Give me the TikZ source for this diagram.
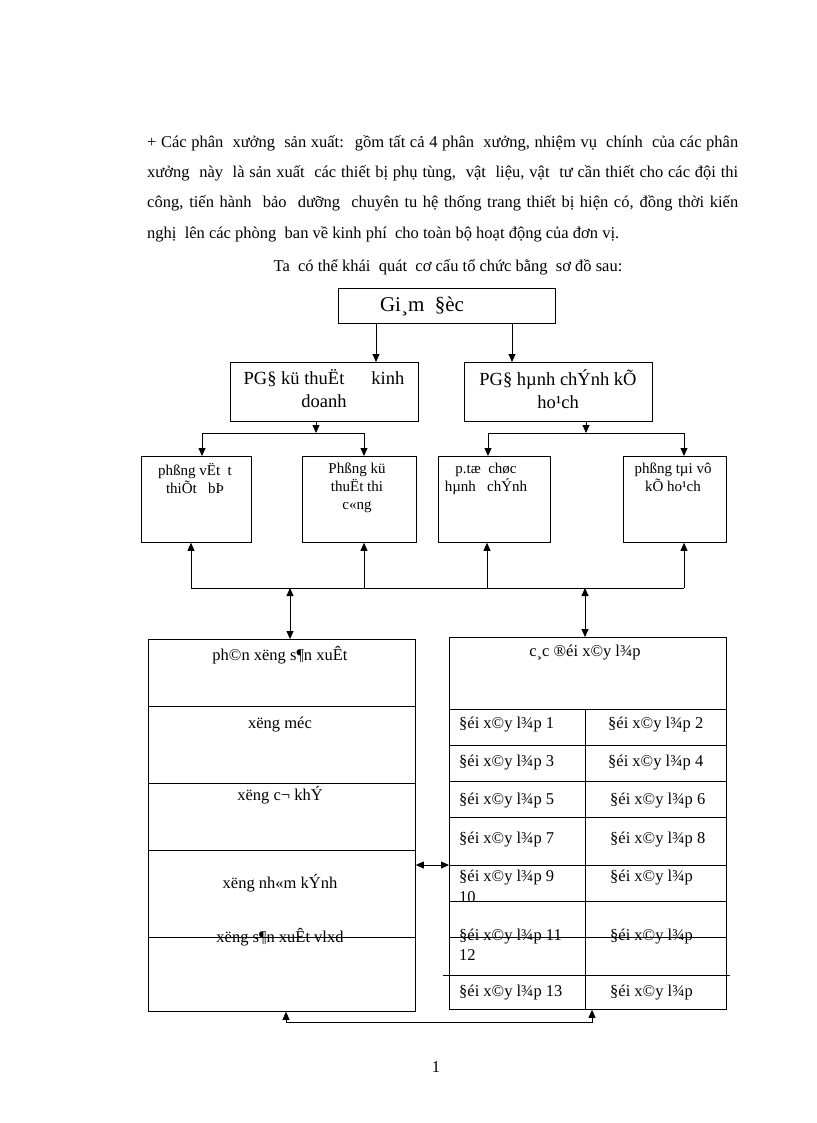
\documentclass[tikz,border=0pt]{standalone}
\usepackage{fontspec}
\setmainfont{Liberation Serif}
\usetikzlibrary{arrows.meta}
\tikzset{
  box/.style={draw, line width=0.8pt, inner sep=0pt, anchor=north west},
  ln/.style={line width=0.8pt},
  arr/.style={line width=0.8pt, -{Triangle[length=8pt,width=7pt]}},
  dbl/.style={line width=0.8pt, {Triangle[length=8pt,width=7pt]}-{Triangle[length=8pt,width=7pt]}},
  para/.style={inner sep=0pt, font=\fontsize{16.5}{20}\selectfont},
  gdtext/.style={inner sep=0pt, font=\fontsize{21}{25}\selectfont},
  pgtext/.style={inner sep=0pt, align=center, font=\fontsize{18.5}{23}\selectfont},
  smtext/.style={inner sep=0pt, align=center, anchor=north, font=\fontsize{15}{18}\selectfont},
  tbtext/.style={inner sep=0pt, font=\fontsize{16.5}{19}\selectfont},
}
\begin{document}
\begin{tikzpicture}[x=1pt,y=-1pt]
\useasboundingbox (0,0) rectangle (816,1123);
% paragraph
\node[para, anchor=base west] (p1) at (147,148) {\makebox[591pt][s]{+ Các phân \ xưởng \ sản xuất: \ gồm tất cả 4 phân \ xưởng, nhiệm vụ \ chính \ của các phân}};
\node[para, anchor=base west] (p2) at (147,178) {\makebox[591pt][s]{xưởng \ này \ là sản xuất \ các thiết bị phụ tùng, \ vật \ liệu, vật \ tư cần thiết cho các đội thi}};
\node[para, anchor=base west] (p3) at (147,208) {\makebox[591pt][s]{công, tiến hành \ bảo \ dưỡng \ chuyên tu hệ thống trang thiết bị hiện có, đồng thời kiến}};
\node[para, anchor=base west] (p4) at (147,238) {nghị \ lên các phòng \ ban về kinh phí \ cho toàn bộ hoạt động của đơn vị.};
\node[para, anchor=base] (p5) at (448,271) {Ta \ có thể khái \ quát \ cơ cấu tổ chức bằng \ sơ đồ sau:};
% boxes
\node[box, minimum width=217pt, minimum height=35pt] (gd) at (338,288) {};
\node[box, minimum width=188pt, minimum height=59pt] (pg1) at (230,362) {};
\node[box, minimum width=188pt, minimum height=59pt] (pg2) at (464,362) {};
\node[box, minimum width=110pt, minimum height=86pt] (b1) at (141,456) {};
\node[box, minimum width=114pt, minimum height=86pt] (b2) at (302,456) {};
\node[box, minimum width=112pt, minimum height=86pt] (b3) at (438,456) {};
\node[box, minimum width=103pt, minimum height=86pt] (b4) at (623,456) {};
\node[box, minimum width=267pt, minimum height=372pt] (lbox) at (148,639) {};
\node[box, minimum width=277pt, minimum height=372pt] (rt) at (449,637) {};
% texts
\node[gdtext] (tgd) at (422,306) {Gi¸m \ §èc};
\node[pgtext] (tpg1) at (324,389) {PG§ kü thuËt\hspace{27pt}kinh\\doanh};
\node[pgtext] (tpg2) at (558,389) {PG§ hµnh chÝnh kÕ\\ho¹ch};
\node[smtext] (tb1) at (195,463) {phßng vËt \ t\\thiÕt \ \ bÞ};
\node[smtext] (tb2) at (357,463) {Phßng kü\\thuËt thi\\c«ng};
\node[smtext] (tb3) at (486,463) {p.tæ \ chøc\\hµnh \ \ chÝnh};
\node[smtext] (tb4) at (673,463) {phßng tµi vô\\kÕ ho¹ch};
% left big box
\draw[ln] (148,706) -- (415,706);
\draw[ln] (148,783) -- (415,783);
\draw[ln] (148,850) -- (415,850);
\draw[ln] (148,937) -- (415,937);
\node[tbtext] (l1) at (280,655) {ph©n xëng s¶n xuÊt};
\node[tbtext] (l2) at (280,725) {xëng méc};
\node[tbtext] (l3) at (280,795) {xëng c¬ khÝ};
\node[tbtext] (l4) at (280,883) {xëng nh«m kÝnh};
\node[tbtext] (l5) at (280,937) {xëng s¶n xuÊt vlxd};
% right table
\draw[ln] (449,709) -- (726,709);
\draw[ln] (449,745) -- (726,745);
\draw[ln] (449,781) -- (726,781);
\draw[ln] (449,817) -- (726,817);
\draw[ln] (449,865) -- (726,865);
\draw[ln] (449,901) -- (726,901);
\draw[ln] (449,937) -- (726,937);
\draw[ln] (443,975) -- (730,975);
\draw[ln] (585,709) -- (585,1009);
\node[tbtext] (hd) at (585,653) {c¸c ®éi x©y l¾p};
\node[tbtext, anchor=west] (r1) at (459,725) {§éi x©y l¾p 1};
\node[tbtext, anchor=west] (r2) at (608,725) {§éi x©y l¾p 2};
\node[tbtext, anchor=west] (r3) at (459,763) {§éi x©y l¾p 3};
\node[tbtext, anchor=west] (r4) at (608,763) {§éi x©y l¾p 4};
\node[tbtext, anchor=west] (r5) at (459,801) {§éi x©y l¾p 5};
\node[tbtext, anchor=west] (r6) at (610,801) {§éi x©y l¾p 6};
\node[tbtext, anchor=west] (r7) at (459,840) {§éi x©y l¾p 7};
\node[tbtext, anchor=west] (r8) at (610,840) {§éi x©y l¾p 8};
\node[tbtext, anchor=west] (r9) at (459,878) {§éi x©y l¾p 9};
\node[tbtext, anchor=west] (r9b) at (459,897) {10};
\node[tbtext, anchor=west] (r10) at (610,878) {§éi x©y l¾p};
\node[tbtext, anchor=west] (r11) at (459,937) {§éi x©y l¾p 11};
\node[tbtext, anchor=west] (r11b) at (459,955) {12};
\node[tbtext, anchor=west] (r12) at (610,937) {§éi x©y l¾p};
\node[tbtext, anchor=west] (r13) at (459,993) {§éi x©y l¾p 13};
\node[tbtext, anchor=west] (r14) at (610,993) {§éi x©y l¾p};
% page number
\node[tbtext] (pn) at (436,1067) {1};
% connectors
\coordinate (g1) at (376,0);
\coordinate (g2) at (512,0);
\draw[arr] (gd.south -| g1) -- (pg1.north -| g1);
\draw[arr] (gd.south -| g2) -- (pg2.north -| g2);
\coordinate (u0) at (316,433);
\coordinate (u1) at (202,433);
\coordinate (u2) at (364,433);
\draw[arr] (pg1.south -| u0) -- (u0);
\draw[ln] (u1) -- (u2);
\draw[arr] (u1) -- (b1.north -| u1);
\draw[arr] (u2) -- (b2.north -| u2);
\coordinate (v0) at (586,433);
\coordinate (v1) at (488,433);
\coordinate (v2) at (684,433);
\draw[arr] (pg2.south -| v0) -- (v0);
\draw[ln] (v1) -- (v2);
\draw[arr] (v1) -- (b3.north -| v1);
\draw[arr] (v2) -- (b4.north -| v2);
\coordinate (w1) at (191,588);
\coordinate (w2) at (364,588);
\coordinate (w3) at (487,588);
\coordinate (w4) at (684,588);
\draw[ln] (w1) -- (w4);
\draw[arr] (w1) -- (b1.south -| w1);
\draw[arr] (w2) -- (b2.south -| w2);
\draw[arr] (w3) -- (b3.south -| w3);
\draw[arr] (w4) -- (b4.south -| w4);
\coordinate (w5) at (290,588);
\coordinate (w6) at (585,588);
\draw[dbl] (w5) -- (lbox.north -| w5);
\draw[dbl] (w6) -- (rt.north -| w6);
\coordinate (s1) at (0,865);
\draw[dbl] (lbox.east |- s1) -- (rt.west |- s1);
\coordinate (bl) at (286,1022);
\coordinate (br) at (592,1022);
\draw[dbl] (lbox.south -| bl) -- (bl) -- (br) -- (rt.south -| br);
\end{tikzpicture}
\end{document}
